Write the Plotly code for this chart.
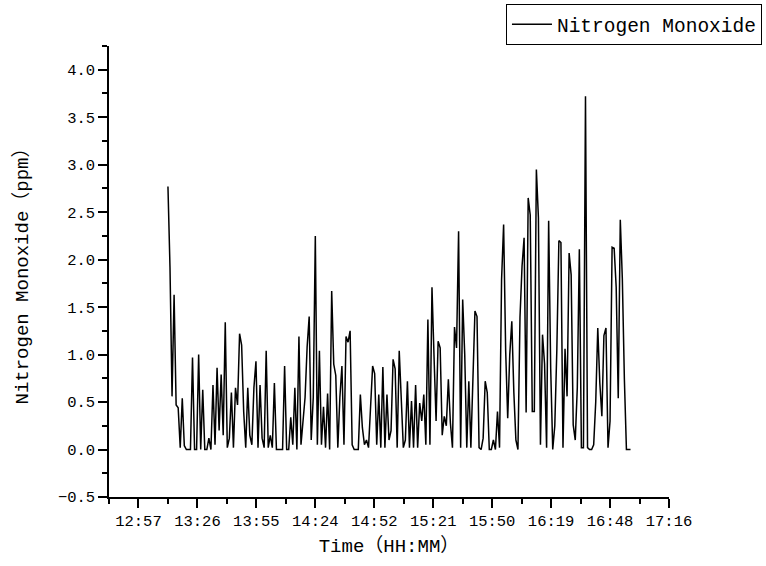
import pandas as pd
import plotly.graph_objects as go

# NO concentration, one reading per minute starting 13:12
start_time = "2024-01-01 13:12:00"
sample_step = "1min"
no_ppm = [
    2.77, 1.92, 0.56, 1.63, 0.47, 0.44, 0.02, 0.54, 0.04, 0.00,
    0.00, 0.00, 0.97, 0.00, 0.00, 1.00, 0.00, 0.63, 0.00, 0.00,
    0.12, 0.00, 0.68, 0.05, 0.86, 0.20, 0.79, 0.15, 1.34, 0.02,
    0.12, 0.60, 0.02, 0.65, 0.47, 1.22, 1.10, 0.40, 0.02, 0.65,
    0.15, 0.05, 0.65, 0.93, 0.02, 0.68, 0.12, 0.02, 1.04, 0.02,
    0.15, 0.02, 0.70, 0.00, 0.00, 0.00, 0.00, 0.88, 0.00, 0.00,
    0.34, 0.05, 0.65, 0.00, 1.19, 0.05, 0.35, 0.55, 1.08, 1.40,
    0.10, 0.55, 2.25, 0.05, 1.04, 0.05, 0.45, 0.02, 0.59, 0.00,
    1.67, 0.90, 0.78, 0.02, 0.55, 0.88, 0.05, 1.19, 1.13, 1.25,
    0.05, 0.00, 0.00, 0.00, 0.58, 0.23, 0.05, 0.10, 0.02, 0.51,
    0.88, 0.80, 0.05, 0.58, 0.02, 0.87, 0.02, 0.58, 0.10, 0.20,
    0.95, 0.85, 0.02, 1.04, 0.50, 0.02, 0.10, 0.72, 0.02, 0.51,
    0.02, 0.68, 0.02, 0.49, 0.30, 0.58, 0.05, 1.37, 0.05, 1.71,
    0.98, 0.30, 1.14, 1.07, 0.15, 0.35, 0.25, 0.74, 0.28, 0.02,
    1.29, 1.07, 2.30, 0.02, 1.58, 1.00, 0.02, 0.72, 0.02, 0.80,
    1.46, 1.40, 0.02, 0.00, 0.12, 0.72, 0.60, 0.00, 0.00, 0.10,
    0.00, 0.40, 0.02, 1.79, 2.37, 1.04, 0.33, 1.00, 1.35, 0.60,
    0.10, 0.00, 1.39, 1.93, 2.23, 0.39, 2.65, 2.47, 0.40, 0.40,
    2.95, 2.44, 0.05, 1.21, 0.90, 0.02, 2.41, 0.85, 0.00, 0.25,
    1.05, 2.20, 2.18, 0.02, 1.06, 0.56, 2.07, 1.84, 0.26, 0.10,
    0.65, 2.11, 0.02, 0.02, 3.72, 0.02, 0.00, 0.00, 0.05, 0.50,
    1.28, 0.70, 0.35, 1.20, 1.28, 0.02, 0.30, 2.13, 2.12, 1.71,
    0.54, 2.42, 1.80, 0.74, 0.00, 0.00, 0.00,
]
times = pd.date_range(start_time, periods=len(no_ppm), freq=sample_step)

# time axis: major ticks every 0.02 day (28.8 min), labels truncated to HH:MM
x_start = "2024-01-01 12:43:12"
x_end = "2024-01-01 17:16:48"
x_tick_labels = ["12:57", "13:26", "13:55", "14:24", "14:52",
                 "15:21", "15:50", "16:19", "16:48", "17:16"]
major_step = pd.Timedelta(minutes=28.8)
first_major = pd.Timestamp("2024-01-01 12:57:36")
x_tick_vals = [first_major + k * major_step for k in range(len(x_tick_labels))]
x_minor_vals = [first_major - major_step / 2 + k * major_step
                for k in range(len(x_tick_labels))]

y_range = [-0.5, 4.25]

font_main = "Liberation Mono, Noto Sans CJK SC, monospace"

fig = go.Figure()
fig.add_trace(go.Scatter(
    x=times, y=no_ppm, mode="lines", name="Nitrogen Monoxide",
    line=dict(color="black", width=1.5),
))

fig.update_layout(
    width=766, height=566,
    margin=dict(l=109, r=97, t=46, b=69, autoexpand=False),
    paper_bgcolor="white", plot_bgcolor="white",
    font=dict(family=font_main, color="black", size=15),
    showlegend=True,
    legend=dict(
        x=1.166, y=1.093, xanchor="right", yanchor="top",
        bordercolor="black", borderwidth=1, bgcolor="white",
        font=dict(family=font_main, size=19.5, color="black"),
        itemwidth=40,
    ),
)

fig.update_xaxes(
    type="date", range=[x_start, x_end],
    tickmode="array", tickvals=x_tick_vals, ticktext=x_tick_labels,
    ticks="outside", ticklen=9, tickwidth=1.5, tickcolor="black",
    showline=True, linecolor="black", linewidth=1.5,
    showgrid=False, zeroline=False,
    tickfont=dict(family=font_main, size=15.5, color="black"),
    minor=dict(tickmode="array", tickvals=x_minor_vals, ticks="outside",
               ticklen=5, tickwidth=1.5, tickcolor="black", showgrid=False),
    title=dict(text="Time（HH:MM）", standoff=8,
               font=dict(family=font_main, size=19, color="black")),
)

fig.update_yaxes(
    range=y_range, tick0=-0.5, dtick=0.5, tickformat=".1f",
    ticks="outside", ticklen=9, tickwidth=1.5, tickcolor="black",
    showline=True, linecolor="black", linewidth=1.5,
    showgrid=False, zeroline=False,
    tickfont=dict(family=font_main, size=15.5, color="black"),
    minor=dict(dtick=0.25, tick0=-0.5, ticks="outside", ticklen=5,
               tickwidth=1.5, tickcolor="black", showgrid=False),
    title=dict(text="Nitrogen Monoxide（ppm）", standoff=24,
               font=dict(family=font_main, size=19, color="black")),
)

fig.write_html("out.html")
